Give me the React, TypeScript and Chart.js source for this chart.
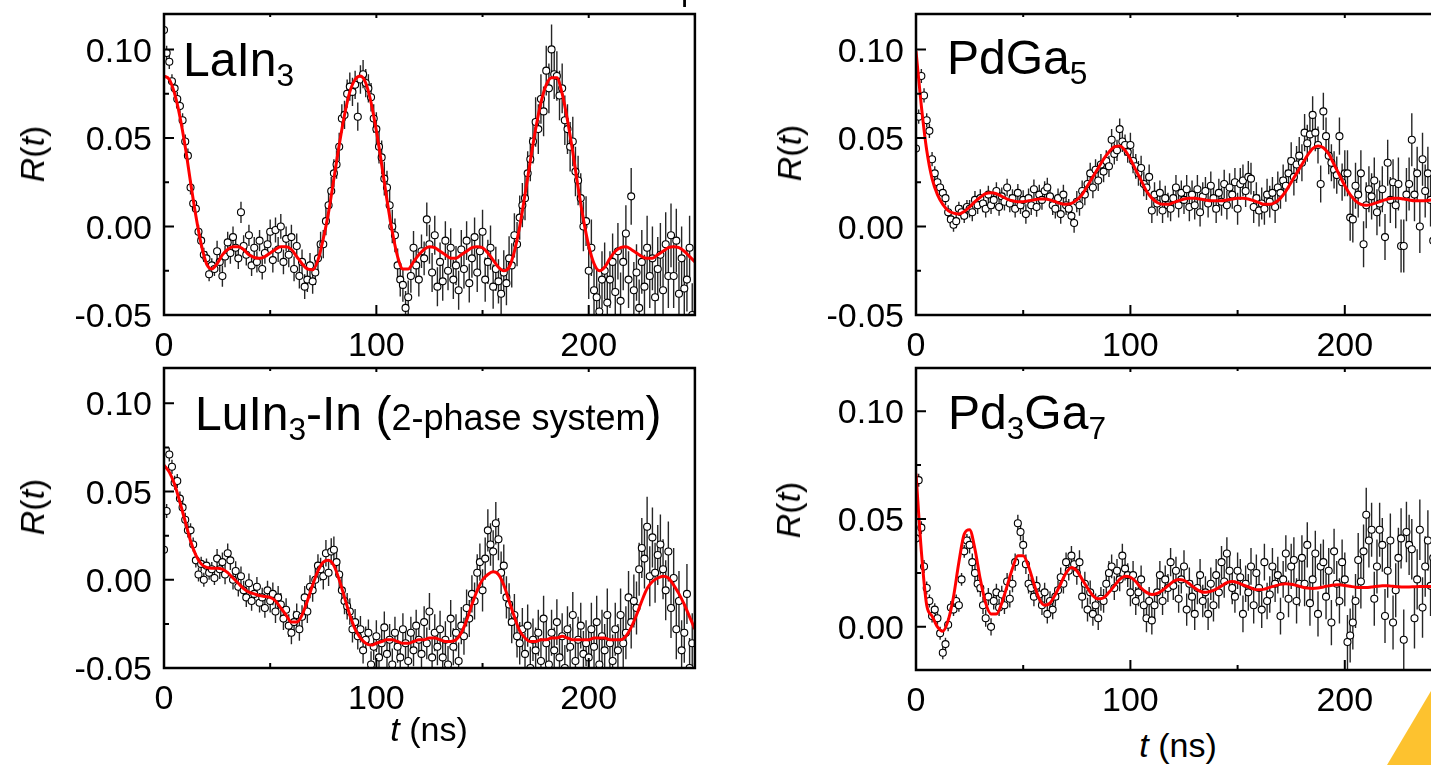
import React, { useEffect, useRef } from 'react';
import { Chart, registerables } from 'chart.js';

Chart.register(...registerables);

const FONT = '"Liberation Sans", Arial, Helvetica, sans-serif';

// ---------- shared axes ----------
const DATA_T = [
  0, 1.25, 2.5, 3.75, 5, 6.25, 7.5, 8.75,
  10, 11.25, 12.5, 13.75, 15, 16.25, 17.5, 18.75,
  20, 21.25, 22.5, 23.75, 25, 26.25, 27.5, 28.75,
  30, 31.25, 32.5, 33.75, 35, 36.25, 37.5, 38.75,
  40, 41.25, 42.5, 43.75, 45, 46.25, 47.5, 48.75,
  50, 51.25, 52.5, 53.75, 55, 56.25, 57.5, 58.75,
  60, 61.25, 62.5, 63.75, 65, 66.25, 67.5, 68.75,
  70, 71.25, 72.5, 73.75, 75, 76.25, 77.5, 78.75,
  80, 81.25, 82.5, 83.75, 85, 86.25, 87.5, 88.75,
  90, 91.25, 92.5, 93.75, 95, 96.25, 97.5, 98.75,
  100, 101.25, 102.5, 103.75, 105, 106.25, 107.5, 108.75,
  110, 111.25, 112.5, 113.75, 115, 116.25, 117.5, 118.75,
  120, 121.25, 122.5, 123.75, 125, 126.25, 127.5, 128.75,
  130, 131.25, 132.5, 133.75, 135, 136.25, 137.5, 138.75,
  140, 141.25, 142.5, 143.75, 145, 146.25, 147.5, 148.75,
  150, 151.25, 152.5, 153.75, 155, 156.25, 157.5, 158.75,
  160, 161.25, 162.5, 163.75, 165, 166.25, 167.5, 168.75,
  170, 171.25, 172.5, 173.75, 175, 176.25, 177.5, 178.75,
  180, 181.25, 182.5, 183.75, 185, 186.25, 187.5, 188.75,
  190, 191.25, 192.5, 193.75, 195, 196.25, 197.5, 198.75,
  200, 201.25, 202.5, 203.75, 205, 206.25, 207.5, 208.75,
  210, 211.25, 212.5, 213.75, 215, 216.25, 217.5, 218.75,
  220, 221.25, 222.5, 223.75, 225, 226.25, 227.5, 228.75,
  230, 231.25, 232.5, 233.75, 235, 236.25, 237.5, 238.75,
  240, 241.25, 242.5, 243.75, 245, 246.25, 247.5, 248.75,
];

const FIT_T = [
  0, 2.5, 5, 7.5, 10, 12.5, 15, 17.5, 20, 22.5, 25, 27.5, 30, 32.5, 35, 37.5, 40, 42.5, 45, 47.5,
  50, 52.5, 55, 57.5, 60, 62.5, 65, 67.5, 70, 72.5, 75, 77.5, 80, 82.5, 85, 87.5, 90, 92.5, 95, 97.5,
  100, 102.5, 105, 107.5, 110, 112.5, 115, 117.5, 120, 122.5, 125, 127.5, 130, 132.5, 135, 137.5, 140, 142.5, 145, 147.5,
  150, 152.5, 155, 157.5, 160, 162.5, 165, 167.5, 170, 172.5, 175, 177.5, 180, 182.5, 185, 187.5, 190, 192.5, 195, 197.5,
  200, 202.5, 205, 207.5, 210, 212.5, 215, 217.5, 220, 222.5, 225, 227.5, 230, 232.5, 235, 237.5, 240, 242.5, 245, 247.5,
  250,
];

const X_MAJOR = [0, 100, 200];
const X_LABELS = ['0', '100', '200'];
const X_MINOR = [50, 150, 250];

const Y_MAJOR_A = [-0.05, 0, 0.05, 0.1];
const Y_LABELS_A = ['-0.05', '0.00', '0.05', '0.10'];
const Y_MINOR_A = [-0.025, 0.025, 0.075];

const Y_MAJOR_B = [0, 0.05, 0.1];
const Y_LABELS_B = ['0.00', '0.05', '0.10'];
const Y_MINOR_B = [0.025, 0.075];

// ---------- LaIn3 ----------
const LAIN3_R = [
  0.111, 0.098, 0.093, 0.082, 0.078, 0.072, 0.068, 0.060,
  0.048, 0.040, 0.022, 0.013, 0.010, -0.003, -0.008, -0.016,
  -0.018, -0.027, -0.022, -0.024, -0.014, -0.020, -0.028, -0.017,
  -0.009, -0.015, -0.006, -0.012, -0.018, 0.008, -0.011, -0.016,
  -0.005, -0.022, -0.012, -0.020, -0.008, -0.024, -0.015, -0.010,
  -0.003, -0.019, -0.002, -0.013, 0.000, -0.020, -0.007, -0.016,
  -0.006, -0.024, -0.011, -0.028, -0.020, -0.034, -0.030, -0.022,
  -0.031, -0.026, -0.018, -0.010, -0.010, 0.003, 0.012, 0.020,
  0.030, 0.035, 0.045, 0.061, 0.063, 0.075, 0.079, 0.076,
  0.080, 0.062, 0.083, 0.086, 0.081, 0.078, 0.073, 0.061,
  0.055, 0.045, 0.039, 0.027, 0.022, 0.012, 0.000, -0.005,
  -0.022, -0.030, -0.033, -0.046, -0.040, -0.028, -0.012, -0.022,
  -0.030, -0.014, -0.018, 0.004, -0.010, -0.026, -0.005, -0.034,
  -0.020, -0.031, -0.008, -0.025, -0.012, -0.030, -0.022, -0.036,
  -0.013, -0.024, -0.008, -0.032, -0.018, -0.006, -0.026, -0.014,
  -0.003, -0.030, -0.020, -0.012, -0.034, -0.024, -0.031, -0.038,
  -0.026, -0.032, -0.018, -0.022, -0.005, -0.010, 0.005, 0.012,
  0.016, 0.030, 0.038, 0.048, 0.059, 0.055, 0.072, 0.065,
  0.088, 0.078, 0.100, 0.086, 0.085, 0.074, 0.078, 0.060,
  0.055, 0.045, 0.048, 0.031, 0.026, 0.016, 0.000, 0.003,
  -0.025, -0.012, -0.036, -0.040, -0.048, -0.030, -0.025, -0.043,
  -0.030, -0.020, -0.037, -0.014, -0.042, -0.020, -0.004, -0.030,
  0.017, -0.036, -0.026, -0.046, -0.020, -0.034, -0.012, -0.028,
  -0.018, -0.040, -0.024, -0.016, -0.036, -0.010, -0.028, -0.005,
  -0.028, -0.008, -0.038, -0.018, -0.035, -0.030, -0.012, -0.050,
];
const LAIN3_ERR = [0.004, 0.006, 0.007, 0.008, 0.0095, 0.011, 0.0125, 0.014, 0.016, 0.018];
const LAIN3_FIT = [
  0.085, 0.083, 0.075, 0.062, 0.045, 0.025, 0.006, -0.010, -0.021, -0.024,
  -0.021, -0.016, -0.013, -0.0115, -0.0115, -0.013, -0.016, -0.0175, -0.018, -0.017,
  -0.015, -0.013, -0.0115, -0.0115, -0.013, -0.017, -0.021, -0.024, -0.0245, -0.019,
  -0.007, 0.008, 0.027, 0.046, 0.063, 0.076, 0.083, 0.085, 0.081, 0.070,
  0.054, 0.035, 0.015, -0.003, -0.017, -0.024, -0.024, -0.020, -0.016, -0.013,
  -0.0115, -0.012, -0.014, -0.016, -0.018, -0.018, -0.016, -0.014, -0.012, -0.0115,
  -0.012, -0.015, -0.019, -0.023, -0.025, -0.023, -0.014, 0.000, 0.018, 0.037,
  0.055, 0.070, 0.080, 0.084, 0.084, 0.075, 0.060, 0.042, 0.022, 0.004,
  -0.011, -0.021, -0.025, -0.023, -0.018, -0.014, -0.012, -0.0115, -0.013, -0.015,
  -0.017, -0.018, -0.018, -0.016, -0.014, -0.012, -0.0115, -0.012, -0.014, -0.017,
  -0.020,
];

// ---------- LuIn3-In ----------
const LUIN3_R = [
  0.017, 0.039, 0.071, 0.064, 0.055, 0.056, 0.046, 0.041,
  0.034, 0.028, 0.028, 0.020, 0.011, 0.003, 0.009, 0.000,
  0.008, 0.004, 0.006, 0.001, 0.012, 0.006, 0.010, 0.003,
  0.015, 0.011, 0.000, 0.005, -0.004, 0.002, -0.006, -0.010,
  -0.002, -0.012, -0.008, -0.004, -0.013, -0.010, -0.016, -0.006,
  -0.012, -0.008, -0.018, -0.010, -0.014, -0.022, -0.017, -0.026,
  -0.030, -0.024, -0.020, -0.028, -0.021, -0.010, -0.018, -0.004,
  -0.006, 0.000, 0.008, 0.006, 0.002, 0.015, 0.004, 0.016,
  0.017, 0.010, 0.003, -0.006, -0.012, -0.015, -0.018, -0.028,
  -0.024, -0.032, -0.028, -0.040, -0.034, -0.030, -0.048, -0.038,
  -0.032, -0.044, -0.036, -0.027, -0.042, -0.034, -0.048, -0.030,
  -0.038, -0.044, -0.028, -0.036, -0.046, -0.030, -0.040, -0.026,
  -0.034, -0.042, -0.024, -0.036, -0.018, -0.044, -0.030, -0.038,
  -0.028, -0.044, -0.034, -0.048, -0.022, -0.038, -0.030, -0.046,
  -0.026, -0.032, -0.016, -0.022, -0.008, -0.012, 0.004, 0.010,
  -0.006, 0.012, 0.028, 0.020, 0.016, 0.032, 0.023, 0.004,
  0.008, -0.010, -0.014, -0.024, -0.020, -0.032, -0.036, -0.028,
  -0.042, -0.026, -0.050, -0.034, -0.040, -0.030, -0.046, -0.022,
  -0.036, -0.048, -0.030, -0.040, -0.024, -0.044, -0.032, -0.050,
  -0.028, -0.038, -0.020, -0.046, -0.034, -0.026, -0.042, -0.036,
  -0.044, -0.028, -0.038, -0.024, -0.048, -0.032, -0.040, -0.020,
  -0.036, -0.046, -0.028, -0.040, -0.020, -0.036, -0.030, -0.010,
  -0.024, -0.012, -0.016, 0.006, 0.018, 0.012, 0.030, 0.002,
  0.024, 0.004, 0.014, 0.020, 0.006, -0.006, 0.016, -0.016,
  0.001, -0.028, -0.012, -0.040, -0.030, -0.008, -0.050, -0.036,
];
const LUIN3_ERR = [0.004, 0.0055, 0.0065, 0.0075, 0.009, 0.0105, 0.012, 0.013, 0.015, 0.017];
const LUIN3_FIT = [
  0.065, 0.061, 0.054, 0.044, 0.033, 0.022, 0.014, 0.009, 0.007, 0.0065,
  0.0065, 0.006, 0.004, 0.001, -0.002, -0.005, -0.007, -0.008, -0.009, -0.0095,
  -0.010, -0.012, -0.016, -0.020, -0.024, -0.024, -0.020, -0.012, -0.003, 0.005,
  0.010, 0.011, 0.008, 0.000, -0.010, -0.020, -0.028, -0.033, -0.036, -0.037,
  -0.036, -0.035, -0.034, -0.034, -0.035, -0.036, -0.036, -0.035, -0.034, -0.034,
  -0.033, -0.033, -0.034, -0.035, -0.035, -0.034, -0.030, -0.023, -0.014, -0.006,
  0.000, 0.003, 0.0045, 0.003, -0.003, -0.012, -0.021, -0.029, -0.033, -0.035,
  -0.035, -0.034, -0.034, -0.033, -0.033, -0.032, -0.033, -0.034, -0.034, -0.034,
  -0.034, -0.033, -0.033, -0.033, -0.034, -0.034, -0.034, -0.032, -0.027, -0.020,
  -0.012, -0.005, -0.001, 0.001, 0.002, 0.001, -0.003, -0.008, -0.014, -0.021,
  -0.028,
];

// ---------- PdGa5 ----------
const PDGA5_R = [
  0.044, 0.062, 0.085, 0.074, 0.060, 0.054, 0.038, 0.030,
  0.025, 0.022, 0.019, 0.016, 0.008, 0.004, 0.001, 0.003,
  0.010, 0.008, 0.006, 0.011, 0.010, 0.008, 0.015, 0.012,
  0.016, 0.013, 0.010, 0.018, 0.012, 0.015, 0.020, 0.011,
  0.017, 0.014, 0.022, 0.013, 0.016, 0.010, 0.019, 0.012,
  0.015, 0.007, 0.016, 0.012, 0.021, 0.011, 0.018, 0.015,
  0.020, 0.022, 0.017, 0.012, 0.010, 0.016, 0.007, 0.018,
  0.012, 0.010, 0.006, 0.002, 0.014, 0.012, 0.020, 0.018,
  0.024, 0.030, 0.022, 0.032, 0.026, 0.035, 0.031, 0.037,
  0.034, 0.049, 0.041, 0.043, 0.055, 0.048, 0.046, 0.042,
  0.046, 0.037, 0.034, 0.030, 0.033, 0.024, 0.022, 0.028,
  0.009, 0.018, 0.013, 0.019, 0.009, 0.016, 0.012, 0.010,
  0.016, 0.022, 0.012, 0.019, 0.015, 0.021, 0.011, 0.018,
  0.012, 0.021, 0.008, 0.017, 0.020, 0.013, 0.023, 0.016,
  0.010, 0.019, 0.014, 0.024, 0.012, 0.022, 0.018, 0.025,
  0.010, 0.024, 0.026, 0.020, 0.028, 0.027, 0.011, 0.016,
  0.009, 0.013, 0.010, 0.018, 0.014, 0.019, 0.011, 0.022,
  0.019, 0.026, 0.023, 0.030, 0.037, 0.028, 0.035, 0.040,
  0.036, 0.053, 0.047, 0.052, 0.063, 0.053, 0.046, 0.024,
  0.065, 0.051, 0.040, 0.036, 0.032, 0.029, 0.051, 0.025,
  0.030, 0.030, 0.005, 0.004, 0.023, 0.018, 0.030, -0.010,
  0.012, 0.021, 0.017, 0.026, 0.008, 0.013, 0.021, -0.006,
  0.036, 0.015, 0.025, 0.012, 0.024, -0.011, -0.011, 0.018,
  0.024, 0.049, 0.018, 0.030, 0.000, 0.038, 0.020, 0.030,
  0.015, -0.008, 0.026, 0.035, 0.012, 0.040, 0.020, 0.030,
];
const PDGA5_ERR = [0.004, 0.005, 0.0055, 0.006, 0.007, 0.008, 0.009, 0.0105, 0.013, 0.015];
const PDGA5_FIT = [
  0.099, 0.068, 0.043, 0.027, 0.018, 0.0125, 0.009, 0.0075, 0.007, 0.0085,
  0.011, 0.014, 0.0165, 0.0185, 0.019, 0.0185, 0.017, 0.0155, 0.0145, 0.014,
  0.014, 0.0145, 0.015, 0.0155, 0.0155, 0.015, 0.014, 0.013, 0.0125, 0.013,
  0.015, 0.018, 0.023, 0.028, 0.033, 0.038, 0.042, 0.045, 0.0455, 0.043,
  0.038, 0.032, 0.026, 0.020, 0.016, 0.0135, 0.0125, 0.0125, 0.0135, 0.0145,
  0.0155, 0.016, 0.016, 0.0155, 0.015, 0.0145, 0.0145, 0.0145, 0.015, 0.0155,
  0.016, 0.016, 0.0155, 0.0145, 0.0135, 0.0125, 0.0125, 0.0135, 0.016, 0.020,
  0.025, 0.030, 0.035, 0.040, 0.044, 0.0455, 0.0445, 0.041, 0.035, 0.029,
  0.023, 0.018, 0.0145, 0.0125, 0.012, 0.0125, 0.0135, 0.0145, 0.0155, 0.016,
  0.016, 0.0155, 0.015, 0.0145, 0.0145, 0.0145, 0.015, 0.0155, 0.016, 0.016,
  0.016,
];

// ---------- Pd3Ga7 ----------
const PD3GA7_R = [
  0.041, 0.068, 0.046, 0.028, 0.018, 0.012, 0.005, 0.008,
  0.004, -0.003, -0.012, -0.008, 0.001, 0.009, 0.008, 0.012,
  0.010, 0.022, 0.035, 0.040, 0.038, 0.030, 0.025, 0.020,
  0.018, 0.010, 0.004, 0.014, 0.000, 0.012, 0.016, 0.009,
  0.015, 0.010, 0.021, 0.013, 0.020, 0.030, 0.048, 0.044,
  0.038, 0.029, 0.020, 0.018, 0.014, 0.019, 0.015, 0.010,
  0.016, 0.006, 0.012, 0.008, 0.014, 0.017, 0.023, 0.020,
  0.030, 0.026, 0.033, 0.029, 0.025, 0.030, 0.014, 0.020,
  0.008, 0.016, 0.006, 0.010, 0.004, 0.013, 0.012, 0.020,
  0.025, 0.028, 0.018, 0.026, 0.022, 0.033, 0.027, 0.024,
  0.016, 0.024, 0.012, 0.016, 0.022, 0.010, 0.004, 0.012,
  0.003, 0.010, 0.016, 0.024, 0.012, 0.022, 0.018, 0.030,
  0.019, 0.026, 0.013, 0.022, 0.028, 0.008, 0.020, 0.014,
  0.006, 0.018, 0.024, 0.012, 0.016, 0.006, 0.020, 0.010,
  0.024, 0.016, 0.030, 0.021, 0.034, 0.026, 0.018, 0.014,
  0.026, 0.023, 0.006, 0.020, 0.016, 0.028, 0.010, 0.025,
  0.018, 0.008, 0.030, 0.012, 0.015, 0.028, 0.020, 0.024,
  0.005, 0.022, 0.034, 0.013, 0.028, 0.031, 0.012, 0.020,
  0.032, 0.020, 0.038, 0.011, 0.022, 0.034, 0.006, 0.028,
  0.030, 0.014, 0.026, 0.002, 0.035, 0.020, 0.012, 0.030,
  0.022, -0.007, -0.004, 0.002, 0.012, 0.031, 0.021, 0.035,
  0.052, 0.040, 0.045, 0.013, 0.028, 0.045, 0.038, 0.005,
  0.026, 0.040, 0.002, 0.017, 0.032, 0.041, -0.006, 0.044,
  0.038, 0.036, 0.004, 0.022, 0.045, 0.009, 0.028, 0.040,
  0.019, 0.032, -0.004, 0.026, 0.014, 0.041, 0.008, 0.030,
];
const PD3GA7_ERR = [0.003, 0.004, 0.0045, 0.0055, 0.0065, 0.0075, 0.0085, 0.0105, 0.0125, 0.014];
const PD3GA7_FIT = [
  0.071, 0.035, 0.010, 0.005, 0.000, -0.002, 0.003, 0.014, 0.030, 0.043,
  0.045, 0.036, 0.022, 0.011, 0.006, 0.006, 0.011, 0.019, 0.027, 0.033,
  0.033, 0.028, 0.020, 0.013, 0.010, 0.011, 0.015, 0.020, 0.025, 0.0275,
  0.026, 0.022, 0.018, 0.0145, 0.013, 0.0135, 0.016, 0.019, 0.022, 0.0235,
  0.023, 0.021, 0.018, 0.016, 0.015, 0.0155, 0.017, 0.019, 0.021, 0.022,
  0.0215, 0.020, 0.018, 0.0165, 0.016, 0.0165, 0.0175, 0.019, 0.0205, 0.021,
  0.0205, 0.0195, 0.0185, 0.0175, 0.0172, 0.0175, 0.0183, 0.019, 0.0197, 0.020,
  0.0198, 0.0192, 0.0185, 0.018, 0.0178, 0.018, 0.0185, 0.019, 0.0194, 0.0195,
  0.0192, 0.0188, 0.0184, 0.0182, 0.0182, 0.0185, 0.0188, 0.019, 0.019, 0.0188,
  0.0186, 0.0185, 0.0185, 0.0186, 0.0187, 0.0187, 0.0187, 0.0187, 0.0187, 0.0187,
  0.0187,
];

// ---------- panel layout ----------
type PanelCfg = {
  key: string;
  left: number; top: number; w: number; h: number;
  pad: { left: number; top: number; right: number; bottom: number };
  yMin: number; yMax: number;
  yMajor: number[]; yLabels: string[]; yMinor: number[];
  r: number[]; err: number[]; fit: number[];
};

const PANELS: PanelCfg[] = [
  { key: 'lain3', left: 0, top: 0, w: 700, h: 360, pad: { left: 164, top: 14, right: 5, bottom: 45 },
    yMin: -0.05, yMax: 0.12, yMajor: Y_MAJOR_A, yLabels: Y_LABELS_A, yMinor: Y_MINOR_A,
    r: LAIN3_R, err: LAIN3_ERR, fit: LAIN3_FIT },
  { key: 'luin3', left: 0, top: 354, w: 700, h: 360, pad: { left: 164, top: 14, right: 5, bottom: 46 },
    yMin: -0.05, yMax: 0.12, yMajor: Y_MAJOR_A, yLabels: Y_LABELS_A, yMinor: Y_MINOR_A,
    r: LUIN3_R, err: LUIN3_ERR, fit: LUIN3_FIT },
  { key: 'pdga5', left: 752, top: 0, w: 710, h: 360, pad: { left: 164, top: 14, right: 10, bottom: 45 },
    yMin: -0.05, yMax: 0.12, yMajor: Y_MAJOR_A, yLabels: Y_LABELS_A, yMinor: Y_MINOR_A,
    r: PDGA5_R, err: PDGA5_ERR, fit: PDGA5_FIT },
  { key: 'pd3ga7', left: 752, top: 354, w: 710, h: 360, pad: { left: 164, top: 14, right: 10, bottom: 44 },
    yMin: -0.02, yMax: 0.12, yMajor: Y_MAJOR_B, yLabels: Y_LABELS_B, yMinor: Y_MINOR_B,
    r: PD3GA7_R, err: PD3GA7_ERR, fit: PD3GA7_FIT },
];

const TICK_FONT = 34;

function makePlugin(p: PanelCfg) {
  return {
    id: 'pacFrame_' + p.key,
    beforeDatasetsDraw(chart: any) {
      const { ctx, chartArea: a, scales } = chart;
      const x = scales.x, y = scales.y;
      ctx.save();
      ctx.beginPath();
      ctx.rect(a.left, a.top, a.right - a.left, a.bottom - a.top);
      ctx.clip();
      ctx.strokeStyle = '#262626';
      ctx.lineWidth = 1.4;
      ctx.beginPath();
      DATA_T.forEach((t, i) => {
        const e = p.err[Math.min(p.err.length - 1, Math.floor(t / 25))];
        const px = x.getPixelForValue(t);
        ctx.moveTo(px, y.getPixelForValue(p.r[i] + e));
        ctx.lineTo(px, y.getPixelForValue(p.r[i] - e));
      });
      ctx.stroke();
      ctx.restore();
    },
    afterDraw(chart: any) {
      const { ctx, chartArea: a, scales } = chart;
      const x = scales.x, y = scales.y;
      ctx.save();
      ctx.strokeStyle = '#000';
      ctx.lineWidth = 2.5;
      ctx.strokeRect(a.left, a.top, a.right - a.left, a.bottom - a.top);
      ctx.lineWidth = 2;
      ctx.beginPath();
      p.yMajor.forEach((v) => {
        const py = y.getPixelForValue(v);
        ctx.moveTo(a.left, py); ctx.lineTo(a.left + 10, py);
      });
      p.yMinor.forEach((v) => {
        const py = y.getPixelForValue(v);
        ctx.moveTo(a.left, py); ctx.lineTo(a.left + 5, py);
      });
      X_MAJOR.forEach((v) => {
        const px = x.getPixelForValue(v);
        ctx.moveTo(px, a.bottom); ctx.lineTo(px, a.bottom - 10);
        ctx.moveTo(px, a.top); ctx.lineTo(px, a.top + 4);
      });
      X_MINOR.forEach((v) => {
        const px = x.getPixelForValue(v);
        ctx.moveTo(px, a.bottom); ctx.lineTo(px, a.bottom - 5);
        ctx.moveTo(px, a.top); ctx.lineTo(px, a.top + 3);
      });
      ctx.stroke();
      ctx.fillStyle = '#000';
      ctx.font = TICK_FONT + 'px ' + FONT;
      ctx.textBaseline = 'alphabetic';
      ctx.textAlign = 'right';
      p.yMajor.forEach((v, i) => {
        ctx.fillText(p.yLabels[i], a.left - 12, y.getPixelForValue(v) + 0.358 * TICK_FONT);
      });
      ctx.textAlign = 'center';
      X_MAJOR.forEach((v, i) => {
        ctx.fillText(X_LABELS[i], x.getPixelForValue(v), a.bottom + 41);
      });
      ctx.restore();
    },
  };
}

function Panel({ p }: { p: PanelCfg }) {
  const ref = useRef<HTMLCanvasElement | null>(null);
  useEffect(() => {
    if (!ref.current) return;
    const chart = new Chart(ref.current, {
      type: 'scatter',
      data: {
        datasets: [
          {
            type: 'line',
            data: FIT_T.map((t, i) => ({ x: t, y: p.fit[i] })),
            borderColor: '#ff0000',
            borderWidth: 3,
            pointRadius: 0,
            fill: false,
            cubicInterpolationMode: 'monotone',
          } as any,
          {
            type: 'scatter',
            data: DATA_T.map((t, i) => ({ x: t, y: p.r[i] })),
            pointRadius: 3.5,
            pointBackgroundColor: '#ffffff',
            pointBorderColor: '#000000',
            pointBorderWidth: 1.1,
          } as any,
        ],
      },
      options: {
        animation: false,
        responsive: false,
        events: [],
        layout: { padding: p.pad },
        plugins: { legend: { display: false }, tooltip: { enabled: false } },
        scales: {
          x: { type: 'linear', min: 0, max: 250, display: false },
          y: { type: 'linear', min: p.yMin, max: p.yMax, display: false },
        },
      },
      plugins: [makePlugin(p)],
    } as any);
    return () => chart.destroy();
  }, [p]);
  return (
    <canvas
      ref={ref}
      width={p.w}
      height={p.h}
      style={{ position: 'absolute', left: p.left, top: p.top, width: p.w, height: p.h }}
    />
  );
}

const BIG = 48;
const SMALL = 36;
const AX = 34;

function baseTop(baseline: number, size: number) {
  return baseline - 0.8465 * size;
}

const textBase: React.CSSProperties = {
  position: 'absolute',
  fontFamily: FONT,
  lineHeight: 1,
  whiteSpace: 'nowrap',
  color: '#000',
  margin: 0,
};

const subStyle: React.CSSProperties = { fontSize: '0.66em', verticalAlign: '-0.32em' };

function YTitle({ cx, cy }: { cx: number; cy: number }) {
  return (
    <div style={{ ...textBase, left: cx, top: cy, fontSize: AX, transform: 'translate(-50%,-50%) rotate(-90deg)' }}>
      <i>R</i>(<i>t</i>)
    </div>
  );
}

function XTitle({ cx, baseline }: { cx: number; baseline: number }) {
  return (
    <div style={{ ...textBase, left: cx, top: baseTop(baseline, AX), fontSize: AX, transform: 'translateX(-50%)' }}>
      <i>t</i> (ns)
    </div>
  );
}

export default function App() {
  return (
    <div style={{ position: 'fixed', left: 0, top: 0, width: 1431, height: 765, overflow: 'hidden', background: '#fff' }}>
      {PANELS.map((p) => (
        <Panel key={p.key} p={p} />
      ))}

      <div style={{ ...textBase, left: 183, top: baseTop(77, BIG), fontSize: BIG }}>
        LaIn<span style={subStyle}>3</span>
      </div>
      <div style={{ ...textBase, left: 947, top: baseTop(75, BIG), fontSize: BIG }}>
        PdGa<span style={subStyle}>5</span>
      </div>
      <div style={{ ...textBase, left: 195, top: baseTop(431, BIG), fontSize: BIG }}>
        LuIn<span style={subStyle}>3</span>-In (<span style={{ fontSize: SMALL }}>2-phase system</span>)
      </div>
      <div style={{ ...textBase, left: 948, top: baseTop(430, BIG), fontSize: BIG }}>
        Pd<span style={subStyle}>3</span>Ga<span style={subStyle}>7</span>
      </div>

      <YTitle cx={32} cy={154} />
      <YTitle cx={32} cy={507} />
      <YTitle cx={789} cy={153} />
      <YTitle cx={788} cy={510} />

      <XTitle cx={429} baseline={741} />
      <XTitle cx={1178} baseline={757} />

      <div style={{ ...textBase, left: 681, top: baseTop(0, 32), fontSize: 32 }}>p</div>

      <div
        style={{
          position: 'absolute',
          left: 1387,
          top: 691,
          width: 44,
          height: 74,
          background: '#fdc22f',
          clipPath: 'polygon(0% 100%, 100% 0%, 100% 100%)',
        }}
      />
    </div>
  );
}
